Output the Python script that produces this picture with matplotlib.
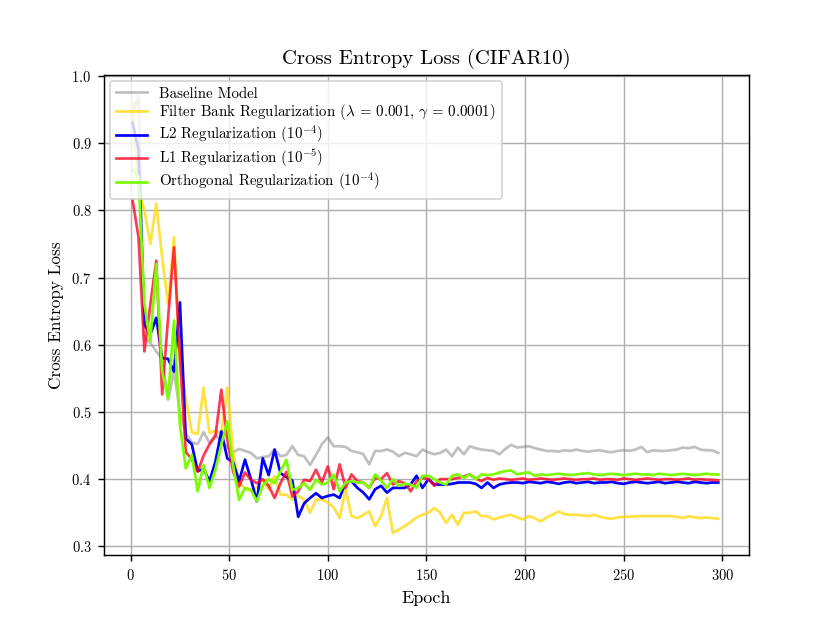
import numpy as np
import matplotlib
matplotlib.use("Agg")
import matplotlib.pyplot as plt

plt.rcParams['font.family'] = 'serif'
plt.rcParams['font.serif'] = ['cmr10']
plt.rcParams['mathtext.fontset'] = 'cm'
plt.rcParams['axes.unicode_minus'] = False
plt.rcParams['axes.formatter.use_mathtext'] = True

# epochs logged every 3 epochs
epochs = np.arange(1, 301, 3)

baseline = [
    0.945, 0.970, 0.610, 0.603, 0.590, 0.579, 0.518, 0.561, 0.500, 0.467,
    0.455, 0.452, 0.470, 0.454, 0.466, 0.456, 0.448, 0.440, 0.445, 0.442,
    0.439, 0.431, 0.433, 0.434, 0.444, 0.434, 0.436, 0.449, 0.436, 0.434,
    0.421, 0.436, 0.452, 0.462, 0.449, 0.449, 0.448, 0.442, 0.440, 0.437,
    0.422, 0.442, 0.442, 0.444, 0.441, 0.434, 0.439, 0.437, 0.434, 0.444,
    0.440, 0.437, 0.439, 0.444, 0.434, 0.447, 0.437, 0.449, 0.446, 0.444,
    0.443, 0.442, 0.437, 0.445, 0.451, 0.447, 0.448, 0.449, 0.446, 0.444,
    0.442, 0.442, 0.441, 0.443, 0.442, 0.444, 0.442, 0.441, 0.442, 0.443,
    0.441, 0.440, 0.442, 0.443, 0.442, 0.444, 0.448, 0.440, 0.443, 0.442,
    0.442, 0.443, 0.444, 0.447, 0.446, 0.448, 0.444, 0.443, 0.443, 0.439,
]

filter_bank = [
    0.960, 0.830, 0.800, 0.750, 0.810, 0.730, 0.660, 0.760, 0.580, 0.520,
    0.470, 0.467, 0.536, 0.469, 0.472, 0.468, 0.536, 0.440, 0.395, 0.386,
    0.383, 0.388, 0.397, 0.385, 0.405, 0.377, 0.377, 0.369, 0.375, 0.370,
    0.350, 0.369, 0.370, 0.365, 0.358, 0.342, 0.385, 0.345, 0.342, 0.347,
    0.352, 0.330, 0.345, 0.372, 0.320, 0.325, 0.330, 0.336, 0.343, 0.347,
    0.350, 0.357, 0.350, 0.335, 0.347, 0.332, 0.350, 0.350, 0.352, 0.345,
    0.345, 0.340, 0.343, 0.345, 0.347, 0.343, 0.340, 0.345, 0.342, 0.337,
    0.343, 0.347, 0.352, 0.348, 0.347, 0.347, 0.346, 0.345, 0.347, 0.344,
    0.342, 0.341, 0.343, 0.344, 0.344, 0.345, 0.345, 0.345, 0.345, 0.345,
    0.345, 0.345, 0.344, 0.342, 0.345, 0.343, 0.342, 0.343, 0.342, 0.341,
]

l2_reg = [
    0.930, 0.890, 0.630, 0.615, 0.640, 0.580, 0.579, 0.560, 0.663, 0.460,
    0.452, 0.412, 0.415, 0.397, 0.426, 0.471, 0.431, 0.425, 0.397, 0.429,
    0.400, 0.367, 0.431, 0.406, 0.444, 0.409, 0.403, 0.398, 0.344, 0.364,
    0.372, 0.379, 0.372, 0.375, 0.377, 0.372, 0.395, 0.397, 0.387, 0.380,
    0.370, 0.385, 0.390, 0.380, 0.387, 0.387, 0.387, 0.392, 0.405, 0.387,
    0.400, 0.392, 0.392, 0.392, 0.393, 0.395, 0.395, 0.395, 0.393, 0.387,
    0.395, 0.387, 0.392, 0.394, 0.395, 0.395, 0.394, 0.396, 0.395, 0.394,
    0.396, 0.395, 0.393, 0.395, 0.396, 0.394, 0.395, 0.396, 0.394, 0.395,
    0.395, 0.396, 0.394, 0.393, 0.395, 0.396, 0.395, 0.394, 0.395, 0.396,
    0.394, 0.395, 0.396, 0.395, 0.394, 0.396, 0.395, 0.394, 0.395, 0.395,
]

l1_reg = [
    0.815, 0.760, 0.590, 0.660, 0.725, 0.526, 0.640, 0.745, 0.580, 0.440,
    0.430, 0.411, 0.435, 0.452, 0.464, 0.533, 0.459, 0.411, 0.389, 0.410,
    0.399, 0.394, 0.400, 0.390, 0.372, 0.394, 0.411, 0.374, 0.382, 0.399,
    0.397, 0.414, 0.395, 0.419, 0.385, 0.422, 0.387, 0.407, 0.397, 0.395,
    0.387, 0.402, 0.400, 0.409, 0.392, 0.397, 0.394, 0.382, 0.397, 0.402,
    0.400, 0.390, 0.400, 0.400, 0.400, 0.402, 0.404, 0.407, 0.401, 0.397,
    0.402, 0.399, 0.401, 0.400, 0.399, 0.400, 0.401, 0.399, 0.400, 0.401,
    0.400, 0.399, 0.400, 0.401, 0.400, 0.399, 0.400, 0.400, 0.401, 0.399,
    0.400, 0.400, 0.399, 0.401, 0.400, 0.399, 0.400, 0.401, 0.400, 0.399,
    0.400, 0.400, 0.399, 0.400, 0.401, 0.399, 0.400, 0.399, 0.399, 0.398,
]

orthogonal = [
    0.860, 0.850, 0.660, 0.605, 0.720, 0.560, 0.520, 0.636, 0.480, 0.416,
    0.436, 0.382, 0.421, 0.387, 0.414, 0.451, 0.486, 0.420, 0.369, 0.387,
    0.384, 0.367, 0.390, 0.400, 0.394, 0.411, 0.429, 0.384, 0.387, 0.394,
    0.384, 0.399, 0.392, 0.395, 0.407, 0.382, 0.395, 0.397, 0.395, 0.395,
    0.387, 0.407, 0.398, 0.387, 0.400, 0.390, 0.393, 0.392, 0.387, 0.405,
    0.405, 0.400, 0.395, 0.392, 0.405, 0.407, 0.402, 0.407, 0.400, 0.407,
    0.406, 0.407, 0.410, 0.412, 0.413, 0.407, 0.409, 0.410, 0.405, 0.407,
    0.406, 0.407, 0.408, 0.407, 0.406, 0.407, 0.408, 0.409, 0.407, 0.406,
    0.407, 0.408, 0.407, 0.406, 0.407, 0.408, 0.407, 0.407, 0.406, 0.408,
    0.407, 0.406, 0.407, 0.408, 0.407, 0.406, 0.407, 0.408, 0.407, 0.407,
]

fig, ax = plt.subplots(figsize=(6.4, 4.8), dpi=130)
ax.plot(epochs, baseline, color='gray', alpha=0.5, lw=1.5, label='Baseline Model')
ax.plot(epochs, filter_bank, color='gold', alpha=0.75, lw=1.5,
        label=r'Filter Bank Regularization ($\lambda\,=\,0.001$, $\gamma\,=\,0.0001$)')
ax.plot(epochs, l2_reg, color='blue', lw=1.5, label=r'L2 Regularization ($10^{-4}$)')
ax.plot(epochs, l1_reg, color='#ff0022', alpha=0.78, lw=1.5, label=r'L1 Regularization ($10^{-5}$)')
ax.plot(epochs, orthogonal, color='lawngreen', lw=1.5, label=r'Orthogonal Regularization ($10^{-4}$)')

ax.set_title('Cross Entropy Loss (CIFAR10)', fontsize=11.5)
ax.set_xlabel('Epoch', fontsize=10)
ax.set_ylabel('Cross Entropy Loss', fontsize=9.5)
ax.set_xlim(-13.5, 313.5)
ax.set_ylim(0.2866, 1.0015)
ax.tick_params(labelsize=8)
ax.grid(True)
ax.legend(loc='upper left', fontsize=8.3, labelspacing=0.12, handlelength=2.1,
          borderaxespad=0.4)

fig.savefig('out.png')
